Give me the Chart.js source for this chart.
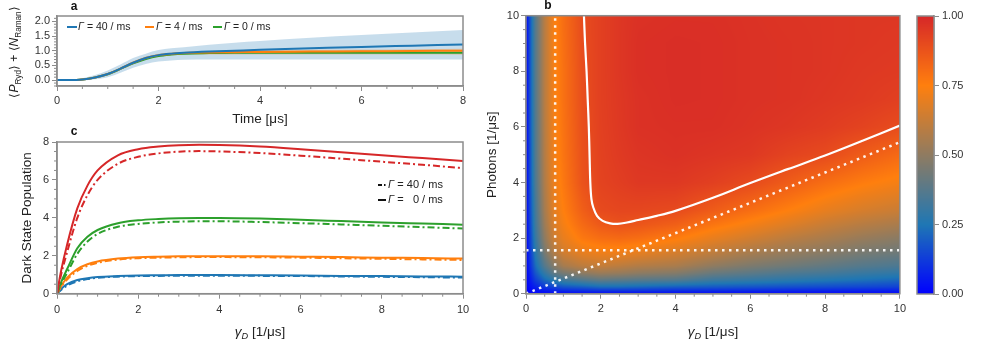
<!DOCTYPE html>
<html>
<head>
<meta charset="utf-8">
<script src="https://cdn.jsdelivr.net/npm/chart.js@4.4.1/dist/chart.umd.min.js"></script>
<style>
  body { margin: 0; background: #fff; }
  #wrap { position: relative; width: 981px; height: 354px; overflow: hidden; }
  canvas { position: absolute; }
</style>
</head>
<body>
<div id="wrap">
  <canvas id="chartA" width="480" height="135" style="left:0;top:0"></canvas>
  <canvas id="chartC" width="480" height="229" style="left:0;top:125px"></canvas>
  <canvas id="chartB" width="430" height="354" style="left:480px;top:0"></canvas>
  <canvas id="chartCb" width="71" height="354" style="left:910px;top:0"></canvas>
</div>
<script>
// ---- panel a : time traces
const timeVals   = [0, 0.25, 0.5, 0.75, 1, 1.25, 1.5, 1.75, 2, 2.25, 2.5, 3, 3.5, 4, 5, 6, 7, 8];
const blueMean   = [0, 0, 0.02, 0.09, 0.21, 0.39, 0.59, 0.75, 0.85, 0.9, 0.93, 0.97, 1.0, 1.03, 1.08, 1.13, 1.17, 1.21];
const orangeMean = [0, 0, 0.02, 0.09, 0.21, 0.39, 0.59, 0.75, 0.85, 0.89, 0.92, 0.94, 0.95, 0.96, 0.97, 0.98, 0.99, 1.0];
const greenMean  = [0, 0, 0.02, 0.09, 0.2, 0.38, 0.57, 0.72, 0.82, 0.87, 0.9, 0.92, 0.93, 0.93, 0.93, 0.93, 0.93, 0.93];
const blueLow    = [0, 0, -0.01, 0.03, 0.1, 0.25, 0.42, 0.55, 0.63, 0.67, 0.69, 0.7, 0.7, 0.7, 0.7, 0.7, 0.7, 0.7];
const blueHigh   = [0, 0, 0.06, 0.17, 0.33, 0.53, 0.75, 0.9, 1.02, 1.08, 1.12, 1.2, 1.27, 1.33, 1.44, 1.53, 1.62, 1.7];
const orangeLow  = [0, 0, 0.01, 0.07, 0.18, 0.35, 0.54, 0.7, 0.8, 0.84, 0.86, 0.87, 0.87, 0.87, 0.87, 0.87, 0.87, 0.86];
const orangeHigh = [0, 0, 0.03, 0.11, 0.24, 0.43, 0.64, 0.8, 0.9, 0.94, 0.96, 0.99, 1.01, 1.02, 1.03, 1.04, 1.05, 1.07];
const aXTicks = [0, 2, 4, 6, 8];
const aYTicks = [0, 0.5, 1, 1.5, 2];

// ---- panel c : dark state population vs gamma_D
const gammaVals   = [0, 0.1, 0.25, 0.5, 0.75, 1, 1.5, 2, 2.5, 3, 3.5, 4, 5, 6, 7, 8, 9, 10];
const redSolid    = [0, 1.2, 2.6, 4.5, 5.7, 6.5, 7.3, 7.62, 7.76, 7.83, 7.85, 7.84, 7.76, 7.62, 7.46, 7.3, 7.15, 7.0];
const redDash     = [0, 1.0, 2.2, 4.0, 5.2, 6.0, 6.85, 7.22, 7.4, 7.49, 7.52, 7.5, 7.42, 7.28, 7.12, 6.96, 6.8, 6.62];
const greenSolid  = [0, 0.6, 1.3, 2.4, 3.0, 3.36, 3.72, 3.87, 3.94, 3.98, 3.99, 3.99, 3.96, 3.9, 3.83, 3.76, 3.7, 3.64];
const greenDash   = [0, 0.5, 1.1, 2.1, 2.75, 3.15, 3.53, 3.68, 3.76, 3.8, 3.82, 3.82, 3.78, 3.72, 3.65, 3.58, 3.51, 3.44];
const orangeSolid = [0, 0.4, 0.85, 1.3, 1.55, 1.7, 1.85, 1.92, 1.95, 1.97, 1.98, 1.98, 1.97, 1.95, 1.93, 1.9, 1.88, 1.85];
const orangeDash  = [0, 0.35, 0.75, 1.2, 1.47, 1.63, 1.8, 1.87, 1.9, 1.92, 1.93, 1.93, 1.92, 1.9, 1.87, 1.84, 1.81, 1.78];
const blueSolid   = [0, 0.25, 0.5, 0.72, 0.82, 0.88, 0.93, 0.96, 0.97, 0.98, 0.98, 0.98, 0.97, 0.96, 0.94, 0.93, 0.91, 0.9];
const blueDash    = [0, 0.2, 0.43, 0.65, 0.77, 0.84, 0.9, 0.93, 0.94, 0.95, 0.95, 0.95, 0.94, 0.93, 0.91, 0.89, 0.87, 0.85];
const cXTicks = [0, 2, 4, 6, 8, 10];
const cYTicks = [0, 2, 4, 6, 8];

// ---- panel b : heatmap (columns follow gridX, entries follow gridY)
const gridX = [0, 0.1, 0.25, 0.5, 0.75, 1, 1.5, 2, 2.5, 3, 4, 5, 6, 7, 8, 9, 10];
const gridY = [0, 0.1, 0.25, 0.5, 0.75, 1, 1.5, 2, 2.5, 3, 4, 5, 6, 7, 8, 9, 10];
const heatCols = [
  [0, 0, 0, 0, 0, 0, 0, 0, 0, 0, 0, 0, 0, 0, 0, 0, 0],
  [0, 0.01, 0.03, 0.05, 0.07, 0.09, 0.11, 0.12, 0.13, 0.14, 0.15, 0.15, 0.16, 0.16, 0.16, 0.16, 0.16],
  [0, 0.03, 0.07, 0.13, 0.18, 0.22, 0.27, 0.3, 0.32, 0.33, 0.35, 0.36, 0.36, 0.365, 0.37, 0.37, 0.37],
  [0, 0.05, 0.12, 0.22, 0.3, 0.37, 0.45, 0.5, 0.53, 0.55, 0.57, 0.58, 0.585, 0.59, 0.59, 0.59, 0.59],
  [0, 0.07, 0.15, 0.28, 0.4, 0.48, 0.58, 0.64, 0.67, 0.69, 0.71, 0.72, 0.725, 0.73, 0.73, 0.735, 0.735],
  [0, 0.08, 0.18, 0.33, 0.45, 0.55, 0.65, 0.7, 0.73, 0.75, 0.77, 0.78, 0.785, 0.79, 0.79, 0.795, 0.8],
  [0, 0.09, 0.2, 0.37, 0.5, 0.6, 0.7, 0.77, 0.81, 0.84, 0.875, 0.88, 0.885, 0.888, 0.89, 0.892, 0.895],
  [0, 0.1, 0.23, 0.4, 0.53, 0.62, 0.72, 0.8, 0.86, 0.9, 0.92, 0.925, 0.928, 0.93, 0.93, 0.93, 0.93],
  [0, 0.1, 0.23, 0.39, 0.52, 0.6, 0.72, 0.81, 0.88, 0.91, 0.935, 0.945, 0.95, 0.952, 0.955, 0.955, 0.955],
  [0, 0.1, 0.22, 0.38, 0.5, 0.58, 0.7, 0.8, 0.87, 0.91, 0.95, 0.96, 0.97, 0.97, 0.975, 0.975, 0.97],
  [0, 0.09, 0.2, 0.37, 0.48, 0.56, 0.66, 0.76, 0.84, 0.9, 0.95, 0.97, 0.975, 0.98, 0.98, 0.98, 0.975],
  [0, 0.085, 0.19, 0.32, 0.42, 0.5, 0.61, 0.7, 0.78, 0.85, 0.93, 0.96, 0.975, 0.978, 0.978, 0.978, 0.975],
  [0, 0.08, 0.18, 0.3, 0.39, 0.46, 0.56, 0.65, 0.73, 0.8, 0.9, 0.95, 0.965, 0.97, 0.97, 0.97, 0.968],
  [0, 0.075, 0.17, 0.28, 0.36, 0.43, 0.52, 0.6, 0.68, 0.75, 0.85, 0.92, 0.955, 0.965, 0.965, 0.965, 0.962],
  [0, 0.07, 0.16, 0.26, 0.34, 0.4, 0.49, 0.56, 0.63, 0.7, 0.8, 0.9, 0.94, 0.955, 0.96, 0.96, 0.96],
  [0, 0.065, 0.15, 0.24, 0.31, 0.37, 0.45, 0.52, 0.59, 0.66, 0.76, 0.85, 0.92, 0.945, 0.95, 0.955, 0.955],
  [0, 0.06, 0.14, 0.22, 0.29, 0.35, 0.43, 0.49, 0.56, 0.63, 0.73, 0.81, 0.895, 0.93, 0.945, 0.95, 0.955]
];
const contourX = [1.55, 1.58, 1.62, 1.65, 1.68, 1.7, 1.72, 1.75, 1.8, 1.9, 2.05, 2.25, 2.45, 2.7, 3, 3.5, 4, 5, 6, 7, 8, 9, 10];
const contourY = [10, 9, 8, 7, 6, 5, 4, 3.4, 3.1, 2.8, 2.62, 2.53, 2.51, 2.56, 2.65, 2.8, 2.98, 3.45, 3.98, 4.48, 4.97, 5.5, 6.05];
const vertLineX = [0.78, 0.78], vertLineY = [0, 10];
const horLineX = [0, 10], horLineY = [1.56, 1.56];
const diagLineX = [0, 10], diagLineY = [0, 5.45];
const bTicks = [0, 2, 4, 6, 8, 10];
const cbTicks = [0, 0.25, 0.5, 0.75, 1];
const cmapStops = [[0, [0, 0, 255]], [0.25, [31, 119, 180]], [0.75, [255, 127, 14]], [1, [214, 39, 40]]];

const fam = '"Liberation Sans", Arial, sans-serif';
const axisGray = '#8c8c8c';
const tickColor = '#333';
const C = { blue: '#1f77b4', orange: '#ff7f0e', green: '#2ca02c', red: '#d62728' };

const pts = (xs, ys) => xs.map((x, i) => ({ x, y: ys[i] }));

function cmap(v) {
  v = Math.min(1, Math.max(0, v));
  for (let i = 0; i < cmapStops.length - 1; i++) {
    const [a, ca] = cmapStops[i], [b, cb] = cmapStops[i + 1];
    if (v <= b) {
      const t = (v - a) / (b - a);
      return ca.map((c, k) => Math.round(c + (cb[k] - c) * t));
    }
  }
  return cmapStops[cmapStops.length - 1][1];
}

function seg(arr, v) {
  if (v <= arr[0]) return [0, 0];
  for (let i = 0; i < arr.length - 1; i++) {
    if (v <= arr[i + 1]) return [i, (v - arr[i]) / (arr[i + 1] - arr[i])];
  }
  return [arr.length - 2, 1];
}

function sampleHeat(vx, vy) {
  const [i, tx] = seg(gridX, vx);
  const [j, ty] = seg(gridY, vy);
  const a = heatCols[i][j], b = heatCols[i + 1][j], c = heatCols[i][j + 1], d = heatCols[i + 1][j + 1];
  return (a * (1 - tx) + b * tx) * (1 - ty) + (c * (1 - tx) + d * tx) * ty;
}

function drawRich(ctx, segs, x, y, size, rotate, color) {
  ctx.save();
  ctx.translate(x, y);
  if (rotate) ctx.rotate(-Math.PI / 2);
  let total = 0;
  const parts = segs.map(s => {
    const fs = s.sub ? size * 0.68 : size;
    const font = (s.it ? 'italic ' : '') + (s.b ? 'bold ' : '') + fs + 'px ' + fam;
    ctx.font = font;
    const w = ctx.measureText(s.t).width;
    total += w;
    return { t: s.t, sub: s.sub, font, w };
  });
  let cx = -total / 2;
  if (segs.align === 'left') cx = 0;
  ctx.textBaseline = 'middle';
  ctx.textAlign = 'left';
  ctx.fillStyle = color || '#222';
  parts.forEach(p => {
    ctx.font = p.font;
    ctx.fillText(p.t, cx, p.sub ? size * 0.3 : 0);
    cx += p.w;
  });
  ctx.restore();
}

function leftText(ctx, segs, x, y, size) {
  const s = segs.slice();
  s.align = 'left';
  drawRich(ctx, s, x, y, size, false, '#222');
}

// titles, minor ticks, frame, legends, panel letters
const decor = {
  id: 'decor',
  afterDraw(chart, args, o) {
    const ctx = chart.ctx, a = chart.chartArea;
    ctx.save();
    ctx.strokeStyle = axisGray;
    ctx.lineWidth = 1;
    const minor = (scale, step, major, horiz) => {
      const n = Math.round((scale.max - scale.min) / step);
      const start = Math.ceil(scale.min / step - 1e-6) * step;
      for (let i = 0; i <= n + 1; i++) {
        const v = start + i * step;
        if (v > scale.max + 1e-6) break;
        const r = v / major;
        if (Math.abs(r - Math.round(r)) < 1e-6) continue;
        const p = scale.getPixelForValue(v);
        ctx.beginPath();
        if (horiz) { ctx.moveTo(p, a.bottom); ctx.lineTo(p, a.bottom + 3); }
        else { ctx.moveTo(a.left, p); ctx.lineTo(a.left - 3, p); }
        ctx.stroke();
      }
    };
    if (o.minorX) minor(chart.scales.x, o.minorX[0], o.minorX[1], true);
    if (o.minorY) minor(chart.scales.y, o.minorY[0], o.minorY[1], false);
    if (o.frame) {
      ctx.lineWidth = 1.5;
      ctx.strokeStyle = axisGray;
      ctx.strokeRect(a.left, a.top, a.right - a.left, a.bottom - a.top);
    }
    const cxm = (a.left + a.right) / 2, cym = (a.top + a.bottom) / 2;
    if (o.xTitle) drawRich(ctx, o.xTitle, cxm, a.bottom + o.xTitleOff, 13.5, false);
    if (o.yTitle) drawRich(ctx, o.yTitle, a.left - o.yTitleOff, cym + (o.yTitleShift || 0), o.yTitleSize || 13.5, true);
    if (o.letter) drawRich(ctx, [{ t: o.letter, b: true }], a.left + o.letterPos[0], a.top + o.letterPos[1], 12, false, '#111');
    (o.legend || []).forEach(it => {
      ctx.save();
      ctx.strokeStyle = it.color;
      ctx.lineWidth = 2;
      ctx.setLineDash(it.dash || []);
      ctx.beginPath();
      ctx.moveTo(a.left + it.x1, a.top + it.y);
      ctx.lineTo(a.left + it.x2, a.top + it.y);
      ctx.stroke();
      ctx.restore();
      leftText(ctx, it.segs, a.left + it.tx, a.top + it.y, it.size);
    });
    ctx.restore();
  }
};

const heatmap = {
  id: 'heatmap',
  beforeDatasetsDraw(chart) {
    const { ctx, chartArea: a, scales } = chart;
    const w = Math.round(a.right - a.left), h = Math.round(a.bottom - a.top);
    const off = document.createElement('canvas');
    off.width = w; off.height = h;
    const octx = off.getContext('2d');
    const img = octx.createImageData(w, h);
    for (let j = 0; j < h; j++) {
      const vy = scales.y.getValueForPixel(a.top + (j + 0.5) * (a.bottom - a.top) / h);
      for (let i = 0; i < w; i++) {
        const vx = scales.x.getValueForPixel(a.left + (i + 0.5) * (a.right - a.left) / w);
        const c = cmap(sampleHeat(vx, vy));
        const k = (j * w + i) * 4;
        img.data[k] = c[0]; img.data[k + 1] = c[1]; img.data[k + 2] = c[2]; img.data[k + 3] = 255;
      }
    }
    octx.putImageData(img, 0, 0);
    ctx.drawImage(off, a.left, a.top, a.right - a.left, a.bottom - a.top);
  }
};

const colorbar = {
  id: 'colorbar',
  beforeDatasetsDraw(chart) {
    const { ctx, chartArea: a, scales } = chart;
    for (let py = Math.floor(a.top); py < Math.ceil(a.bottom); py++) {
      const c = cmap(scales.y.getValueForPixel(py + 0.5));
      ctx.fillStyle = 'rgb(' + c.join(',') + ')';
      ctx.fillRect(a.left, py, a.right - a.left, 1);
    }
  }
};

function axis(min, max, ticks, fmt, pad, size, isX, pos) {
  return {
    type: 'linear', min, max, position: pos || (isX ? 'bottom' : 'left'),
    afterBuildTicks: s => { s.ticks = ticks.map(v => ({ value: v })); },
    afterFit: s => { if (isX) s.height = size; else s.width = size; },
    ticks: { callback: v => fmt(v), font: { family: fam, size: 11 }, color: tickColor, padding: pad, autoSkip: false, maxRotation: 0 },
    grid: { display: true, drawOnChartArea: false, drawTicks: true, tickLength: 5, color: axisGray, tickColor: axisGray, tickWidth: 1 },
    border: { display: true, color: axisGray, width: 1.5 },
    title: { display: false }
  };
}

const line = (xs, ys, color, dash, width) => ({
  data: pts(xs, ys), borderColor: color, borderWidth: width || 2, borderDash: dash || [],
  pointRadius: 0, fill: false, cubicInterpolationMode: 'monotone', borderCapStyle: 'butt'
});
const band = (xs, ys, color, target) => ({
  data: pts(xs, ys), borderWidth: 0, borderColor: 'transparent', pointRadius: 0,
  backgroundColor: color, fill: target === undefined ? false : target, cubicInterpolationMode: 'monotone'
});

const common = {
  responsive: false, animation: false, devicePixelRatio: 1,
  plugins: { legend: { display: false }, tooltip: { enabled: false }, filler: { drawTime: 'beforeDatasetsDraw' } }
};

const gamma = [{ t: 'Γ', it: true }];

// ---- chart a
new Chart(document.getElementById('chartA'), {
  type: 'line',
  data: {
    datasets: [
      line(timeVals, blueMean, C.blue),
      line(timeVals, orangeMean, C.orange),
      line(timeVals, greenMean, C.green),
      band(timeVals, orangeLow, 'transparent'),
      band(timeVals, orangeHigh, 'rgba(255,127,14,0.28)', 3),
      band(timeVals, blueLow, 'transparent'),
      band(timeVals, blueHigh, 'rgba(31,119,180,0.25)', 5)
    ]
  },
  options: {
    ...common,
    layout: { padding: { left: 0, top: 16, right: 17, bottom: 0 } },
    scales: {
      x: axis(0, 8, aXTicks, v => String(v), 3, 49, true),
      y: axis(-0.2, 2.18, aYTicks, v => v.toFixed(1), 2, 57, false)
    },
    plugins: {
      ...common.plugins,
      decor: {
        frame: true, minorX: [0.5, 2], minorY: [0.1, 0.5],
        xTitle: [{ t: 'Time [μs]' }], xTitleOff: 33,
        yTitle: [{ t: '⟨' }, { t: 'P', it: true }, { t: 'Ryd', sub: true }, { t: '⟩ + ⟨' }, { t: 'N', it: true }, { t: 'Raman', sub: true }, { t: '⟩' }],
        yTitleOff: 42, yTitleSize: 12, yTitleShift: 1,
        letter: 'a', letterPos: [17, -9],
        legend: [
          { x1: 10, x2: 20, y: 11, color: C.blue, tx: 21, size: 10.5, segs: gamma.concat([{ t: ' = 40 / ms' }]) },
          { x1: 88, x2: 97, y: 11, color: C.orange, tx: 99, size: 10.5, segs: gamma.concat([{ t: ' = 4 / ms' }]) },
          { x1: 156, x2: 165, y: 11, color: C.green, tx: 167, size: 10.5, segs: gamma.concat([{ t: ' = 0 / ms' }]) }
        ]
      }
    }
  },
  plugins: [decor]
});

// ---- chart c
const dd = [7, 3, 2, 3];
new Chart(document.getElementById('chartC'), {
  type: 'line',
  data: {
    datasets: [
      line(gammaVals, redSolid, C.red),
      line(gammaVals, redDash, C.red, dd),
      line(gammaVals, greenSolid, C.green),
      line(gammaVals, greenDash, C.green, dd),
      line(gammaVals, orangeSolid, C.orange),
      line(gammaVals, orangeDash, C.orange, dd),
      line(gammaVals, blueSolid, C.blue),
      line(gammaVals, blueDash, C.blue, dd)
    ]
  },
  options: {
    ...common,
    layout: { padding: { left: 0, top: 17, right: 17, bottom: 0 } },
    scales: {
      x: axis(0, 10, cXTicks, v => String(v), 5, 60.3, true),
      y: axis(0, 8, cYTicks, v => String(v), 3, 57, false)
    },
    plugins: {
      ...common.plugins,
      decor: {
        frame: true, minorX: [0.5, 2], minorY: [0.5, 2],
        xTitle: [{ t: 'γ', it: true }, { t: 'D', it: true, sub: true }, { t: ' [1/μs]' }], xTitleOff: 39,
        yTitle: [{ t: 'Dark State Population' }], yTitleOff: 30, yTitleSize: 13.5,
        letter: 'c', letterPos: [17, -10],
        legend: [
          { x1: 321, x2: 329, y: 43, color: '#111', dash: [4, 2, 1.5, 2], tx: 331, size: 11, segs: gamma.concat([{ t: ' = 40 / ms' }]) },
          { x1: 321, x2: 329, y: 58, color: '#111', tx: 331, size: 11, segs: gamma.concat([{ t: ' =   0 / ms' }]) }
        ]
      }
    }
  },
  plugins: [decor]
});

// ---- chart b
const dots = { borderColor: 'rgba(255,255,255,0.92)', borderWidth: 2.5, borderDash: [2.5, 4.5], pointRadius: 0, fill: false, tension: 0 };
new Chart(document.getElementById('chartB'), {
  type: 'line',
  data: {
    datasets: [
      { data: pts(contourX, contourY), borderColor: '#fff', borderWidth: 2.2, pointRadius: 0, fill: false, tension: 0.35 },
      { data: pts(vertLineX, vertLineY), ...dots },
      { data: pts(horLineX, horLineY), ...dots },
      { data: pts(diagLineX, diagLineY), ...dots }
    ]
  },
  options: {
    ...common,
    layout: { padding: { left: 0, top: 15.7, right: 3.3, bottom: 0 } },
    scales: {
      x: axis(0, 10, bTicks, v => String(v), 4, 60.3, true),
      y: axis(0, 10, bTicks, v => String(v), 2, 46, false)
    },
    plugins: {
      ...common.plugins,
      decor: {
        frame: true, minorX: [0.5, 2], minorY: [0.5, 2],
        xTitle: [{ t: 'γ', it: true }, { t: 'D', it: true, sub: true }, { t: ' [1/μs]' }], xTitleOff: 39,
        yTitle: [{ t: 'Photons [1/μs]' }], yTitleOff: 34, yTitleSize: 13.5,
        letter: 'b', letterPos: [22, -10]
      }
    }
  },
  plugins: [heatmap, decor]
});

// ---- colorbar
new Chart(document.getElementById('chartCb'), {
  type: 'scatter',
  data: { datasets: [] },
  options: {
    ...common,
    layout: { padding: { left: 7, top: 16, right: 0, bottom: 60 } },
    scales: {
      x: { type: 'linear', display: false, min: 0, max: 1 },
      y: axis(0, 1, cbTicks, v => v.toFixed(2), 3, 47, false, 'right')
    },
    plugins: { ...common.plugins, decor: { frame: true } }
  },
  plugins: [colorbar, decor]
});
</script>
</body>
</html>
